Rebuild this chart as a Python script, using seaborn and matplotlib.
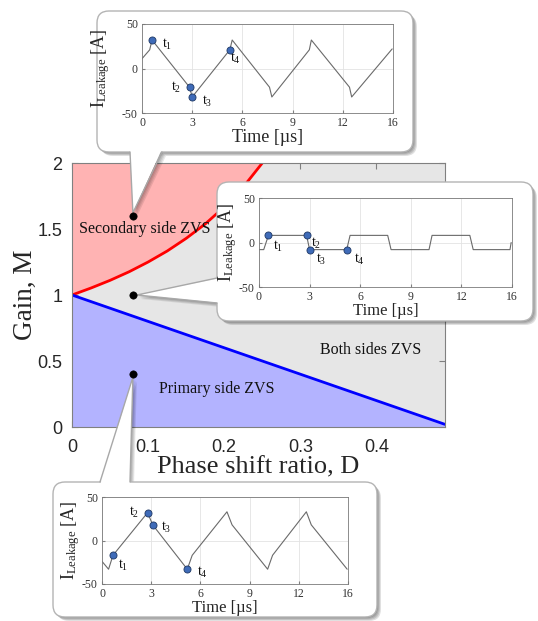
import numpy as np
import matplotlib
matplotlib.use("Agg")
import matplotlib.pyplot as plt
import seaborn as sns
from matplotlib.patches import FancyBboxPatch, Polygon

# ZVS boundaries
red_D = [0.0, 0.025, 0.05, 0.075, 0.1, 0.125, 0.15, 0.175, 0.2, 0.225, 0.25]
red_M = [1.0, 1.053, 1.111, 1.176, 1.25, 1.333, 1.429, 1.538, 1.667, 1.818, 2.0]
blue_D = [0.0, 0.49]
blue_M = [1.0, 0.02]

# operating points (top, middle, bottom callouts)
op_D = [0.08, 0.08, 0.08]
op_M = [1.6, 1.0, 0.4]

region_text = ["Secondary side ZVS", "Both sides ZVS", "Primary side ZVS"]
text_D = [0.096, 0.392, 0.19]
text_M = [1.5, 0.58, 0.29]

# leakage current waveforms (time in us, current in A)
wave1_t = [0, 0.46, 0.6, 2.84, 3.0, 5.25, 5.39, 7.62, 7.76, 10.0, 10.12, 12.4, 12.53, 14.95]
wave1_i = [11, 21, 32, -21, -32, 21, 32, -21, -32, 21, 32, -21, -32, 22]
dots1_t = [0.6, 2.84, 3.0, 5.25]
dots1_i = [32, -21, -32, 21]

wave2_t = [0, 0.28, 0.56, 2.82, 3.0, 5.2, 5.4, 7.63, 7.83, 10.08, 10.26, 12.5, 12.7, 14.88, 14.95]
wave2_i = [-8, -8, 8, 8, -8, -8, 8, 8, -8, -8, 8, 8, -8, -8, 0]
dots2_t = [0.56, 2.82, 3.0, 5.2]
dots2_i = [8, 8, -8, -8]

wave3_t = [0, 0.4, 0.67, 2.78, 3.09, 5.2, 5.5, 7.62, 7.93, 10.1, 10.4, 12.46, 12.76, 14.95]
wave3_i = [-24, -33, -17, 32, 18, -33, -17, 33, 18, -33, -17, 33, 18, -33]
dots3_t = [0.67, 2.78, 3.09, 5.2]
dots3_i = [-17, 32, 18, -33]

t_labels = ["t$_1$", "t$_2$", "t$_3$", "t$_4$"]
time_ticks = [0, 3, 6, 9, 12, 15]
time_ticklabels = ["0", "3", "6", "9", "12", "16"]

sns.set_style("ticks")
plt.rcParams["font.family"] = ["Liberation Sans", "DejaVu Sans"]
plt.rcParams["mathtext.fontset"] = "custom"
plt.rcParams["mathtext.rm"] = "Liberation Serif"
plt.rcParams["mathtext.it"] = "Liberation Serif:italic"
SERIF = "Liberation Serif"

W, H = 538, 621
fig = plt.figure(figsize=(W / 100, H / 100), dpi=100, facecolor="white")


def px_axes(left, top, right, bottom, **kw):
    return fig.add_axes([left / W, 1 - bottom / H, (right - left) / W, (bottom - top) / H], **kw)


# ---- main ZVS map
ax = px_axes(72, 163, 445, 427, zorder=0)
ax.set_facecolor("#e6e6e6")
ax.fill_between(red_D, red_M, 2, color="#ffb3b3", lw=0)
ax.fill_between(blue_D, 0, blue_M, color="#b3b3ff", lw=0)
sns.lineplot(x=red_D, y=red_M, ax=ax, color="#ff0000", lw=2)
sns.lineplot(x=blue_D, y=blue_M, ax=ax, color="#0000ff", lw=2)
ax.set_xlim(0, 0.49)
ax.set_ylim(0, 2)
ax.set_xticks([0, 0.1, 0.2, 0.3, 0.4])
ax.set_xticklabels(["0", "0.1", "0.2", "0.3", "0.4"])
ax.set_yticks([0, 0.5, 1, 1.5, 2])
ax.set_yticklabels(["0", "0.5", "1", "1.5", "2"])
ax.tick_params(direction="in", length=4, color="#808080", labelsize=13,
               labelcolor="#262626", top=True, right=True)
ax.tick_params(axis="x", pad=9)
ax.tick_params(axis="y", pad=7)
for s in ax.spines.values():
    s.set_color("#808080")
    s.set_linewidth(0.8)
ax.set_xlabel("Phase shift ratio, D", fontfamily=SERIF, fontsize=19, labelpad=0)
ax.set_ylabel("Gain, M", fontfamily=SERIF, fontsize=19.5)
ax.yaxis.set_label_coords(-34 / 373, 0.5)
for txt, d, m in zip(region_text, text_D, text_M):
    ax.text(d, m, txt, ha="center", va="center", fontfamily=SERIF, fontsize=11.5, color="#111111")

# ---- overlay in pixel coordinates for the callout boxes
ov = fig.add_axes([0, 0, 1, 1], zorder=1)
ov.set_xlim(0, W)
ov.set_ylim(H, 0)
ov.axis("off")
ov.patch.set_alpha(0)

disp = ax.transData.transform(np.column_stack([op_D, op_M]))
dots_px = ov.transData.inverted().transform(disp)

boxes = [(97, 11, 413, 152), (217, 182, 533, 321), (53, 482, 377, 617)]
tails = [
    [(130, 152), (dots_px[0][0], dots_px[0][1] - 3), (162, 152)],
    [(217, 278), (dots_px[1][0] + 4, dots_px[1][1]), (217, 303)],
    [(100, 482), (dots_px[2][0], dots_px[2][1] + 3), (130, 482)],
]
inward = [(0, -3), (3, 0), (0, 3)]

for (x0, y0, x1, y1), tail, (dx, dy) in zip(boxes, tails, inward):
    for k in (1, 2, 3, 4):
        ov.add_patch(FancyBboxPatch((x0 + k, y0 + k), x1 - x0, y1 - y0,
                                    boxstyle="round,pad=0,rounding_size=12",
                                    fc="black", ec="none", alpha=0.12, zorder=1))
        ov.add_patch(Polygon([(p[0] + k, p[1] + k) for p in tail], closed=True,
                             fc="black", ec="none", alpha=0.09, zorder=1))
    ov.add_patch(FancyBboxPatch((x0, y0), x1 - x0, y1 - y0,
                                boxstyle="round,pad=0,rounding_size=12",
                                fc="white", ec="#b4b4b4", lw=1, zorder=2))
    a, tip, b = tail
    fill = [(a[0] + dx, a[1] + dy), tip, (b[0] + dx, b[1] + dy)]
    ov.add_patch(Polygon(fill, closed=True, fc="white", ec="none", zorder=3))
    ov.plot([a[0], tip[0], b[0]], [a[1], tip[1], b[1]], color="#a8a8a8", lw=1, zorder=4)

sns.scatterplot(x=dots_px[:, 0], y=dots_px[:, 1], ax=ov, color="black", s=28,
                edgecolor="black", zorder=6)
ov.set_xlim(0, W)
ov.set_ylim(H, 0)

# ---- inset waveforms
insets = [
    ((142, 24, 393, 113), wave1_t, wave1_i, dots1_t, dots1_i,
     [(11, -3), (-10, 0), (11, -3), (4, -6)], 13, 30),
    ((259, 198, 512, 287), wave2_t, wave2_i, dots2_t, dots2_i,
     [(7, -8), (7, -6), (8, -7), (9, -7)], 12, 20),
    ((102, 497, 348, 584), wave3_t, wave3_i, dots3_t, dots3_i,
     [(7, -7), (-10, 0), (10, -2), (11, -2)], 12, 20),
]

for (l, t, r, b), wt, wi, dt, di, offs, xfs, ylx in insets:
    ia = px_axes(l, t, r, b, zorder=2)
    ia.set_facecolor("white")
    sns.lineplot(x=wt, y=wi, ax=ia, color="#6a6a6a", lw=0.8, sort=False)
    sns.scatterplot(x=dt, y=di, ax=ia, color="#3f6bb8", edgecolor="#1f3864",
                    linewidth=0.6, s=26, zorder=5)
    for lab, x, y, (ox, oy) in zip(t_labels, dt, di, offs):
        ia.annotate(lab, (x, y), xytext=(ox, oy), textcoords="offset points",
                    ha="center", va="center", fontfamily=SERIF, fontsize=10, color="#111111")
    ia.set_xlim(0, 15)
    ia.set_ylim(-50, 50)
    ia.set_xticks(time_ticks)
    ia.set_xticklabels(time_ticklabels)
    ia.set_yticks([-50, 0, 50])
    ia.set_yticklabels(["-50", "0", "50"])
    ia.grid(True, color="#e3e3e3", lw=0.6)
    ia.tick_params(direction="in", length=2, color="#808080", labelsize=8.5,
                   labelcolor="#333333", pad=3)
    for lbl in ia.get_xticklabels() + ia.get_yticklabels():
        lbl.set_fontfamily(SERIF)
    for s in ia.spines.values():
        s.set_color("#7a7a7a")
        s.set_linewidth(0.6)
    ia.set_xlabel("Time [\u00b5s]", fontfamily=SERIF, fontsize=xfs, labelpad=0)
    ia.set_ylabel(r"I$_{\mathrm{Leakage}}$ [A]", fontfamily=SERIF, fontsize=13)
    ia.yaxis.set_label_coords(-ylx / (r - l), 0.5)

fig.savefig("out.png", dpi=100, facecolor="white")
